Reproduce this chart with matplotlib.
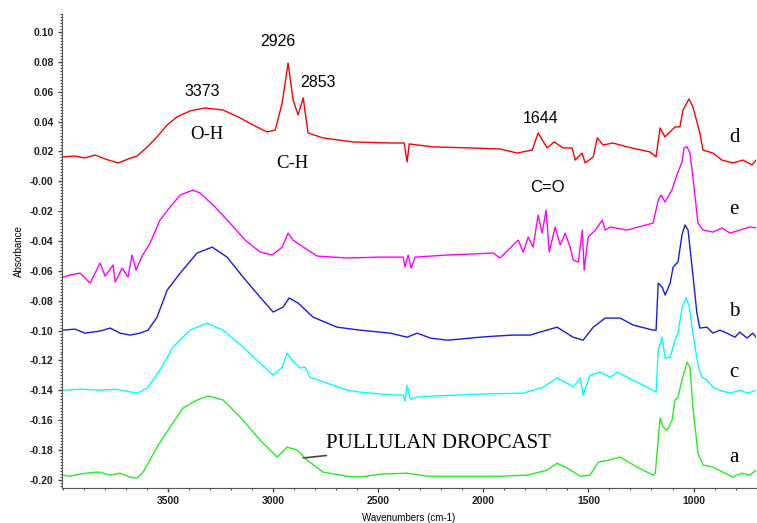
import numpy as np
import matplotlib
matplotlib.use("Agg")
import matplotlib.pyplot as plt
from matplotlib.ticker import MultipleLocator

# ---- spectra (wavenumber cm-1, absorbance) ----
d_wn = [4000, 3941, 3894, 3846, 3798, 3736, 3689, 3646, 3598, 3551, 3503, 3456, 3394, 3323,
        3237, 3156, 3085, 3028, 2989, 2956, 2928, 2904, 2880, 2856, 2833, 2761, 2618, 2428,
        2376, 2362, 2352, 2238, 2062, 1920, 1839, 1767, 1739, 1696, 1663, 1620, 1577, 1563,
        1530, 1515, 1477, 1458, 1430, 1383, 1316, 1206, 1178, 1159, 1136, 1088, 1065, 1050,
        1022, 1003, 970, 955, 908, 865, 813, 765, 722, 703]
d_ab = [0.0163, 0.0169, 0.0156, 0.0176, 0.0149, 0.0122, 0.0149, 0.0169, 0.0229, 0.0297,
        0.0377, 0.0431, 0.0471, 0.0491, 0.0477, 0.0424, 0.0370, 0.0330, 0.0343, 0.0524,
        0.0792, 0.0544, 0.0444, 0.0558, 0.0323, 0.0290, 0.0263, 0.0256, 0.0256, 0.0129,
        0.0250, 0.0230, 0.0223, 0.0216, 0.0189, 0.0209, 0.0323, 0.0223, 0.0263, 0.0223,
        0.0223, 0.0142, 0.0189, 0.0122, 0.0163, 0.0290, 0.0243, 0.0256, 0.0230, 0.0196,
        0.0163, 0.0357, 0.0297, 0.0364, 0.0364, 0.0477, 0.0551, 0.0498, 0.0323, 0.0209,
        0.0189, 0.0142, 0.0122, 0.0142, 0.0109, 0.0142]

e_wn = [3998, 3965, 3917, 3869, 3822, 3798, 3760, 3750, 3717, 3689, 3670, 3651, 3622, 3584,
        3537, 3489, 3441, 3380, 3346, 3275, 3204, 3132, 3061, 3004, 2956, 2928, 2904, 2871,
        2790, 2647, 2491, 2381, 2372, 2357, 2343, 2324, 2172, 1953, 1920, 1872, 1834, 1810,
        1786, 1763, 1739, 1720, 1701, 1686, 1658, 1634, 1610, 1587, 1572, 1548, 1529, 1520,
        1501, 1467, 1434, 1420, 1396, 1316, 1192, 1168, 1154, 1136, 1103, 1079, 1055, 1045,
        1031, 1017, 1003, 979, 955, 908, 865, 827, 780, 732, 703]
e_ab = [-0.0642, -0.0628, -0.0615, -0.0682, -0.0548, -0.0635, -0.0561, -0.0675, -0.0581,
        -0.0642, -0.0494, -0.0595, -0.0501, -0.0414, -0.0260, -0.0173, -0.0092, -0.0059,
        -0.0079, -0.0173, -0.0280, -0.0394, -0.0474, -0.0494, -0.0441, -0.0347, -0.0394,
        -0.0427, -0.0501, -0.0514, -0.0508, -0.0508, -0.0575, -0.0494, -0.0581, -0.0508,
        -0.0494, -0.0481, -0.0514, -0.0447, -0.0394, -0.0474, -0.0374, -0.0441, -0.0226,
        -0.0347, -0.0193, -0.0474, -0.0306, -0.0427, -0.0347, -0.0441, -0.0528, -0.0541,
        -0.0327, -0.0595, -0.0374, -0.0327, -0.0260, -0.0327, -0.0306, -0.0327, -0.0280,
        -0.0126, -0.0092, -0.0139, -0.0059, 0.0042, 0.0129, 0.0223, 0.0230, 0.0189, 0.0028,
        -0.0280, -0.0327, -0.0340, -0.0313, -0.0347, -0.0327, -0.0306, -0.0313]

b_wn = [3998, 3941, 3894, 3822, 3774, 3727, 3679, 3632, 3594, 3551, 3503, 3441, 3361, 3289,
        3218, 3142, 3061, 2999, 2952, 2923, 2880, 2809, 2695, 2586, 2443, 2362, 2314, 2252,
        2172, 2110, 2015, 1944, 1858, 1777, 1730, 1649, 1573, 1525, 1477, 1420, 1349, 1287,
        1192, 1178, 1168, 1149, 1135, 1111, 1097, 1074, 1055, 1041, 1026, 1007, 984, 970,
        936, 908, 875, 841, 803, 780, 746, 718, 703]
b_ab = [-0.0997, -0.0990, -0.1017, -0.1003, -0.0983, -0.1017, -0.1030, -0.1017, -0.0997,
        -0.0910, -0.0729, -0.0615, -0.0481, -0.0441, -0.0508, -0.0642, -0.0776, -0.0876,
        -0.0843, -0.0782, -0.0816, -0.0910, -0.0977, -0.0997, -0.1017, -0.1044, -0.1017,
        -0.1050, -0.1064, -0.1057, -0.1044, -0.1037, -0.1030, -0.1030, -0.1010, -0.0977,
        -0.1044, -0.1064, -0.0977, -0.0916, -0.0916, -0.0963, -0.0997, -0.0997, -0.0682,
        -0.0709, -0.0762, -0.0682, -0.0575, -0.0541, -0.0360, -0.0293, -0.0327, -0.0575,
        -0.0883, -0.0983, -0.0977, -0.1017, -0.0997, -0.1017, -0.1044, -0.1010, -0.1050,
        -0.1017, -0.1044]

c_wn = [3998, 3917, 3822, 3750, 3646, 3598, 3537, 3475, 3394, 3313, 3237, 3142, 3061, 2999,
        2956, 2933, 2909, 2871, 2847, 2823, 2743, 2647, 2586, 2428, 2381, 2372, 2362, 2348,
        2314, 2252, 2015, 1810, 1715, 1649, 1601, 1573, 1539, 1525, 1492, 1444, 1396, 1363,
        1268, 1178, 1168, 1149, 1135, 1111, 1088, 1074, 1055, 1036, 1021, 1003, 979, 960,
        936, 908, 875, 827, 780, 742, 703]
c_ab = [-0.1399, -0.1392, -0.1399, -0.1392, -0.1419, -0.1385, -0.1265, -0.1111, -0.0997,
        -0.0950, -0.0997, -0.1111, -0.1218, -0.1298, -0.1245, -0.1151, -0.1198, -0.1251,
        -0.1245, -0.1312, -0.1352, -0.1399, -0.1412, -0.1432, -0.1432, -0.1472, -0.1365,
        -0.1459, -0.1445, -0.1439, -0.1425, -0.1419, -0.1379, -0.1318, -0.1352, -0.1379,
        -0.1318, -0.1432, -0.1298, -0.1278, -0.1312, -0.1278, -0.1345, -0.1412, -0.1131,
        -0.1044, -0.1184, -0.1178, -0.1064, -0.1017, -0.0849, -0.0782, -0.0829, -0.1017,
        -0.1231, -0.1312, -0.1332, -0.1379, -0.1399, -0.1419, -0.1399, -0.1419, -0.1399]

a_wn = [3998, 3965, 3917, 3846, 3822, 3774, 3727, 3679, 3646, 3617, 3551, 3489, 3427, 3361,
        3308, 3237, 3156, 3061, 2980, 2933, 2885, 2838, 2761, 2647, 2586, 2491, 2362, 2267,
        2158, 2015, 1920, 1791, 1696, 1649, 1601, 1539, 1492, 1453, 1406, 1349, 1268, 1192,
        1182, 1159, 1145, 1126, 1102, 1088, 1074, 1055, 1031, 1017, 1003, 979, 955, 908, 860,
        813, 770, 732, 703]
a_ab = [-0.1968, -0.1975, -0.1961, -0.1948, -0.1948, -0.1968, -0.1955, -0.1981, -0.1988,
        -0.1948, -0.1780, -0.1646, -0.1519, -0.1465, -0.1438, -0.1465, -0.1579, -0.1733,
        -0.1847, -0.1780, -0.1800, -0.1867, -0.1948, -0.1975, -0.1981, -0.1961, -0.1955,
        -0.1975, -0.1975, -0.1975, -0.1975, -0.1968, -0.1935, -0.1888, -0.1921, -0.1975,
        -0.1968, -0.1881, -0.1868, -0.1847, -0.1914, -0.1968, -0.1955, -0.1586, -0.1646,
        -0.1667, -0.1600, -0.1465, -0.1445, -0.1331, -0.1211, -0.1244, -0.1512, -0.1820,
        -0.1900, -0.1914, -0.1948, -0.1981, -0.1955, -0.1968, -0.1935]

series = [
    (d_wn, d_ab, '#ff0000', 'd', 0.029),
    (e_wn, e_ab, '#ff00ff', 'e', -0.019),
    (b_wn, b_ab, '#1a1ae6', 'b', -0.0875),
    (c_wn, c_ab, '#00ffff', 'c', -0.128),
    (a_wn, a_ab, '#22ee22', 'a', -0.185),
]

yticks = [-0.20, -0.18, -0.16, -0.14, -0.12, -0.10, -0.08, -0.06, -0.04, -0.02,
          0.00, 0.02, 0.04, 0.06, 0.08, 0.10]
ytick_labels = ['-0.20', '-0.18', '-0.16', '-0.14', '-0.12', '-0.10', '-0.08', '-0.06',
                '-0.04', '-0.02', '-0.00', '0.02', '0.04', '0.06', '0.08', '0.10']
xticks = [3500, 3000, 2500, 2000, 1500, 1000]

# peak annotations: (text, wavenumber, absorbance, font family, size)
peak_labels = [
    ('3373', 3337, 0.0600, 'Liberation Sans', 11.5),
    ('2926', 2975, 0.0933, 'Liberation Sans', 11.5),
    ('2853', 2785, 0.0660, 'Liberation Sans', 11.5),
    ('1644', 1729, 0.0420, 'Liberation Sans', 11.5),
    ('O-H', 3313, 0.0310, 'Liberation Serif', 13.5),
    ('C-H', 2909, 0.0120, 'Liberation Serif', 13.5),
    ('C=O', 1697, -0.0040, 'Liberation Sans', 12),
]

fig = plt.figure(figsize=(7.57, 5.23), dpi=100)
ax = fig.add_axes([62 / 757, 35 / 523, 694 / 757, 474 / 523])

for wn, ab, col, name, ly in series:
    ax.plot(wn, ab, color=col, linewidth=1.0)
    ax.text(807, ly, name, family='Liberation Serif', fontsize=15,
            ha='center', va='center')

for txt, x, y, fam, size in peak_labels:
    ax.text(x, y, txt, family=fam, fontsize=size, ha='center', va='center')

ax.annotate('PULLULAN DROPCAST', xy=(2855, -0.1853), xytext=(2748, -0.1754),
            family='Liberation Serif', fontsize=15, ha='left', va='center',
            arrowprops=dict(arrowstyle='-', color='#444444', lw=1.2,
                            shrinkA=0, shrinkB=0))

ax.set_xlim(4003, 703)
ax.set_ylim(-0.2054, 0.112)

ax.spines['top'].set_visible(False)
ax.spines['right'].set_visible(False)
ax.spines['left'].set_color('#555555')
ax.spines['bottom'].set_color('#555555')

ax.set_yticks(yticks)
ax.set_yticklabels(ytick_labels)
ax.set_xticks(xticks)
ax.yaxis.set_minor_locator(MultipleLocator(0.002))
ax.xaxis.set_minor_locator(MultipleLocator(100))
ax.tick_params(axis='both', which='major', direction='out', length=3, width=1,
               color='#444444', labelsize=7.5, pad=3)
ax.tick_params(axis='both', which='minor', direction='out', length=1.5, width=0.8,
               color='#555555')
for lab in ax.get_xticklabels() + ax.get_yticklabels():
    lab.set_family('Liberation Sans')
    lab.set_fontweight('bold')
    lab.set_color('#222222')

ax.set_xlabel('Wavenumbers (cm-1)', family='Liberation Sans', fontsize=7, labelpad=5)
ax.set_ylabel('Absorbance', family='Liberation Sans', fontsize=7, labelpad=4)

fig.savefig('out.png', dpi=100)
